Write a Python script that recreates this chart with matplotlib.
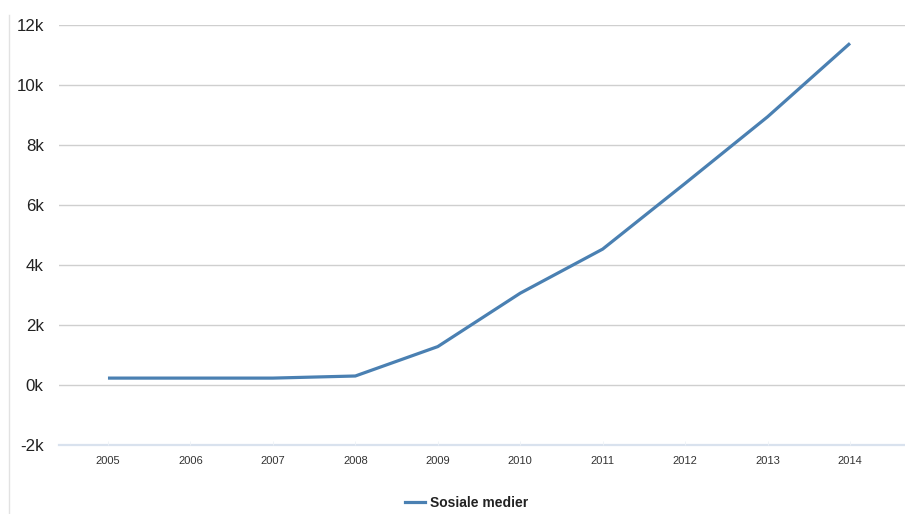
import matplotlib
matplotlib.use("Agg")
import matplotlib.pyplot as plt
from matplotlib.lines import Line2D

years = [2005, 2006, 2007, 2008, 2009, 2010, 2011, 2012, 2013, 2014]
sosiale_medier = [230, 230, 230, 300, 1280, 3060, 4530, 6720, 8940, 11390]
y_ticks = [-2000, 0, 2000, 4000, 6000, 8000, 10000, 12000]
y_tick_labels = ["-2k", "0k", "2k", "4k", "6k", "8k", "10k", "12k"]
series_name = "Sosiale medier"

plt.rcParams["font.family"] = ["Liberation Sans", "DejaVu Sans"]

W, H = 905, 514
fig = plt.figure(figsize=(W / 100, H / 100), dpi=100)
ax = fig.add_axes([59 / W, (H - 445) / H, (905 - 59) / W, 420 / H])

line_color = "#4a80b2"
ax.plot(years, sosiale_medier, color=line_color, lw=2.3,
        solid_joinstyle="round", solid_capstyle="butt", label=series_name, zorder=3)

ax.set_ylim(-2000, 12000)
ax.set_xlim(2004.406, 2014.667)
ax.set_yticks(y_ticks)
ax.set_yticklabels(y_tick_labels)
ax.set_xticks(years)
ax.set_xticklabels([str(y) for y in years])

# horizontal gridlines; the lowest one acts as the category axis
for v in y_ticks[1:]:
    ax.axhline(v, color="#cfcfcf", lw=1.0, zorder=1)
ax.axhline(-2000, color="#d9e2ee", lw=1.6, zorder=1, clip_on=False)

for s in ax.spines.values():
    s.set_visible(False)

ax.tick_params(axis="y", length=0, pad=11, labelsize=12.2, labelcolor="#222222")
ax.tick_params(axis="x", length=3, width=0.6, color="#eef2f7", direction="in",
               pad=8, labelsize=8, labelcolor="#333333")

# thin frame line on the left edge of the figure
fig.add_artist(Line2D([8.5 / W, 8.5 / W], [0, (H - 15) / H],
                      transform=fig.transFigure, color="#e2e2e2", lw=1.0))

leg = fig.legend(handles=[Line2D([0], [0], color=line_color, lw=2.3)],
                 labels=[series_name], loc="center",
                 bbox_to_anchor=(467 / W, (H - 503) / H), frameon=False,
                 handlelength=1.4, handletextpad=0.4,
                 prop={"weight": "bold", "size": 10})
for t in leg.get_texts():
    t.set_color("#222222")

fig.savefig("out.png", dpi=100, facecolor="white")
